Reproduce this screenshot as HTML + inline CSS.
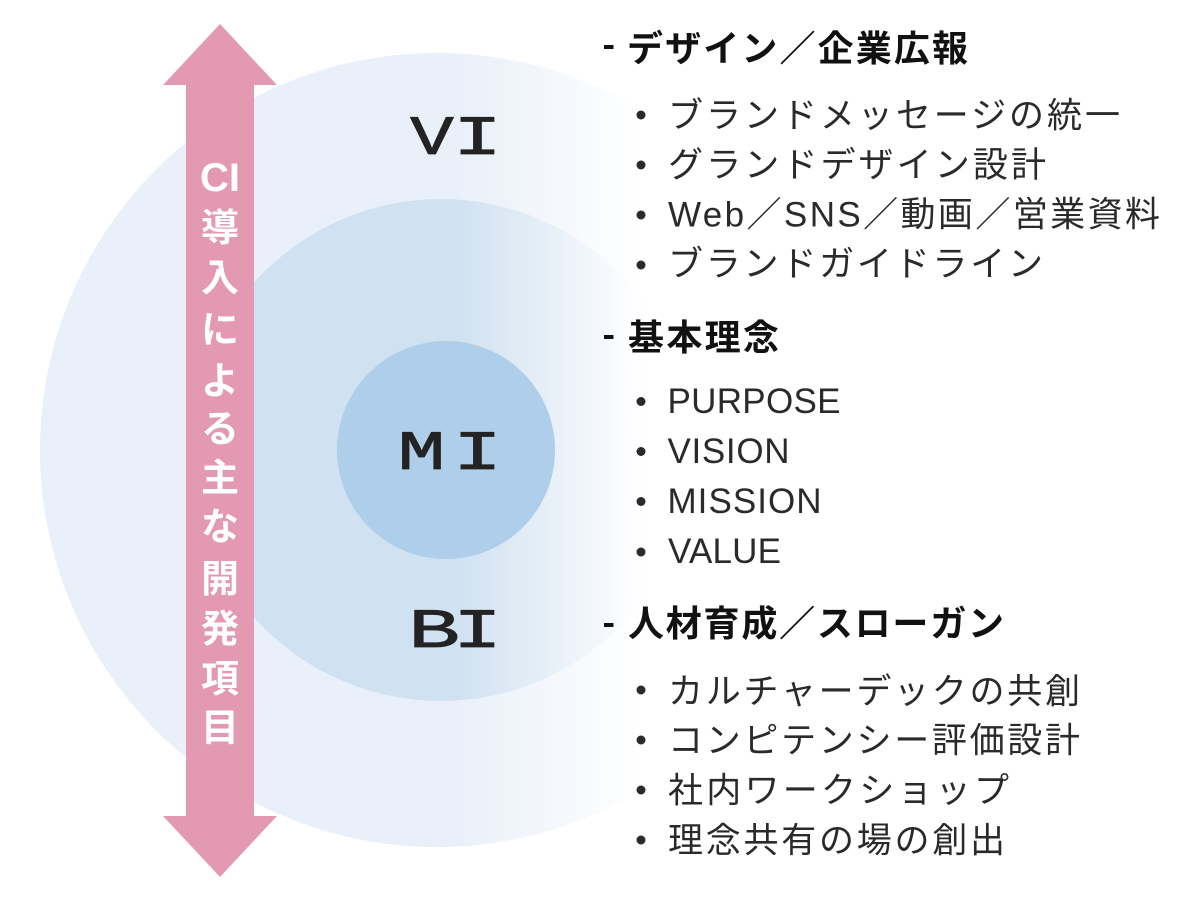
<!DOCTYPE html>
<html lang="ja">
<head>
<meta charset="utf-8">
<style>
  html, body { margin: 0; padding: 0; background: #ffffff; }
  body { width: 1200px; height: 900px; overflow: hidden; }
  svg { display: block; }
  .lbl { font-family: "Liberation Mono", monospace; font-weight: 400; font-size: 56px; fill: #232323; stroke: #232323; stroke-width: 0.8px; }
  .arr { font-family: "Liberation Sans", "Noto Sans CJK JP", sans-serif; font-weight: 700; font-size: 38px; fill: #ffffff; }
  .hd { font-family: "Liberation Sans", "Noto Sans CJK JP", sans-serif; font-weight: 700; font-size: 36px; fill: #111111; }
  .it { font-family: "Liberation Sans", "Noto Sans CJK JP", sans-serif; font-weight: 400; font-size: 35px; fill: #2a2a2a; }
</style>
</head>
<body>
<svg width="1200" height="900" viewBox="0 0 1200 900" xmlns="http://www.w3.org/2000/svg">
  <defs>
    <linearGradient id="fade" gradientUnits="userSpaceOnUse" x1="455" y1="0" x2="645" y2="0">
      <stop offset="0" stop-color="#ffffff" stop-opacity="0"/>
      <stop offset="1" stop-color="#ffffff" stop-opacity="1"/>
    </linearGradient>
  </defs>

  <rect x="0" y="0" width="1200" height="900" fill="#ffffff"/>

  <!-- circles -->
  <circle cx="437" cy="450" r="397" fill="#e9f0f9"/>
  <circle cx="441" cy="450" r="251" fill="#d0e1f1"/>
  <rect x="455" y="0" width="745" height="900" fill="url(#fade)"/>
  <circle cx="446" cy="450" r="109" fill="#afcee9"/>

  <!-- VI / MI / BI -->
  <text class="lbl" text-anchor="middle" transform="translate(432,154) scale(1.3,1)">V</text>
  <text class="lbl" text-anchor="middle" transform="translate(477.5,154) scale(1.45,1)">I</text>

  <text class="lbl" text-anchor="middle" transform="translate(421.5,469) scale(1.42,1)">M</text>
  <text class="lbl" text-anchor="middle" transform="translate(477.5,469) scale(1.45,1)">I</text>

  <text class="lbl" text-anchor="middle" transform="translate(434,647) scale(1.55,1)">B</text>
  <text class="lbl" text-anchor="middle" transform="translate(477.5,647) scale(1.45,1)">I</text>

  <!-- double arrow -->
  <polygon fill="#e299b1" points="220,24 277,85 254,85 254,816 277,816 220,877 163,816 186,816 186,85 163,85"/>

  <!-- vertical label -->
  <text class="arr" x="220" y="191" text-anchor="middle" style="font-size:40px">CI</text>
  <text class="arr" x="220" y="241" text-anchor="middle">導</text>
  <text class="arr" x="220" y="291" text-anchor="middle">入</text>
  <text class="arr" x="220" y="343" text-anchor="middle">に</text>
  <text class="arr" x="220" y="394" text-anchor="middle">よ</text>
  <text class="arr" x="220" y="442" text-anchor="middle">る</text>
  <text class="arr" x="220" y="491" text-anchor="middle">主</text>
  <text class="arr" x="220" y="540" text-anchor="middle">な</text>
  <text class="arr" x="220" y="592" text-anchor="middle">開</text>
  <text class="arr" x="220" y="642" text-anchor="middle">発</text>
  <text class="arr" x="220" y="692" text-anchor="middle">項</text>
  <text class="arr" x="220" y="741" text-anchor="middle">目</text>

  <!-- Section 1 -->
  <rect x="604" y="45" width="9.5" height="4" fill="#111111"/>
  <text class="hd" x="627" y="61" textLength="341" lengthAdjust="spacing">デザイン／企業広報</text>

  <circle cx="641" cy="115" r="4.5" fill="#2a2a2a"/>
  <text class="it" x="668" y="127.5" textLength="452" lengthAdjust="spacing">ブランドメッセージの統一</text>
  <circle cx="641" cy="165" r="4.5" fill="#2a2a2a"/>
  <text class="it" x="668" y="177" textLength="378" lengthAdjust="spacing">グランドデザイン設計</text>
  <circle cx="641" cy="215" r="4.5" fill="#2a2a2a"/>
  <text class="it" x="668" y="226.5" textLength="492" lengthAdjust="spacing">Web／SNS／動画／営業資料</text>
  <circle cx="641" cy="265" r="4.5" fill="#2a2a2a"/>
  <text class="it" x="668" y="276" textLength="375" lengthAdjust="spacing">ブランドガイドライン</text>

  <!-- Section 2 -->
  <rect x="604" y="335" width="9.5" height="4" fill="#111111"/>
  <text class="hd" x="628" y="350" textLength="151" lengthAdjust="spacing">基本理念</text>

  <circle cx="641" cy="401.5" r="4.5" fill="#2a2a2a"/>
  <text class="it" x="667.5" y="413" textLength="173" lengthAdjust="spacing">PURPOSE</text>
  <circle cx="641" cy="451.5" r="4.5" fill="#2a2a2a"/>
  <text class="it" x="667.5" y="463" textLength="122" lengthAdjust="spacing">VISION</text>
  <circle cx="641" cy="501.5" r="4.5" fill="#2a2a2a"/>
  <text class="it" x="667.5" y="513" textLength="154" lengthAdjust="spacing">MISSION</text>
  <circle cx="641" cy="552" r="4.5" fill="#2a2a2a"/>
  <text class="it" x="668" y="563" textLength="113" lengthAdjust="spacing">VALUE</text>

  <!-- Section 3 -->
  <rect x="604" y="623" width="9.5" height="4" fill="#111111"/>
  <text class="hd" x="628" y="636" textLength="376" lengthAdjust="spacing">人材育成／スローガン</text>

  <circle cx="641" cy="690" r="4.5" fill="#2a2a2a"/>
  <text class="it" x="668" y="703.5" textLength="412" lengthAdjust="spacing">カルチャーデックの共創</text>
  <circle cx="641" cy="740" r="4.5" fill="#2a2a2a"/>
  <text class="it" x="668" y="752.5" textLength="412" lengthAdjust="spacing">コンピテンシー評価設計</text>
  <circle cx="641" cy="790" r="4.5" fill="#2a2a2a"/>
  <text class="it" x="668" y="802.5" textLength="341" lengthAdjust="spacing">社内ワークショップ</text>
  <circle cx="641" cy="840" r="4.5" fill="#2a2a2a"/>
  <text class="it" x="668" y="852.5" textLength="337" lengthAdjust="spacing">理念共有の場の創出</text>
</svg>
</body>
</html>
